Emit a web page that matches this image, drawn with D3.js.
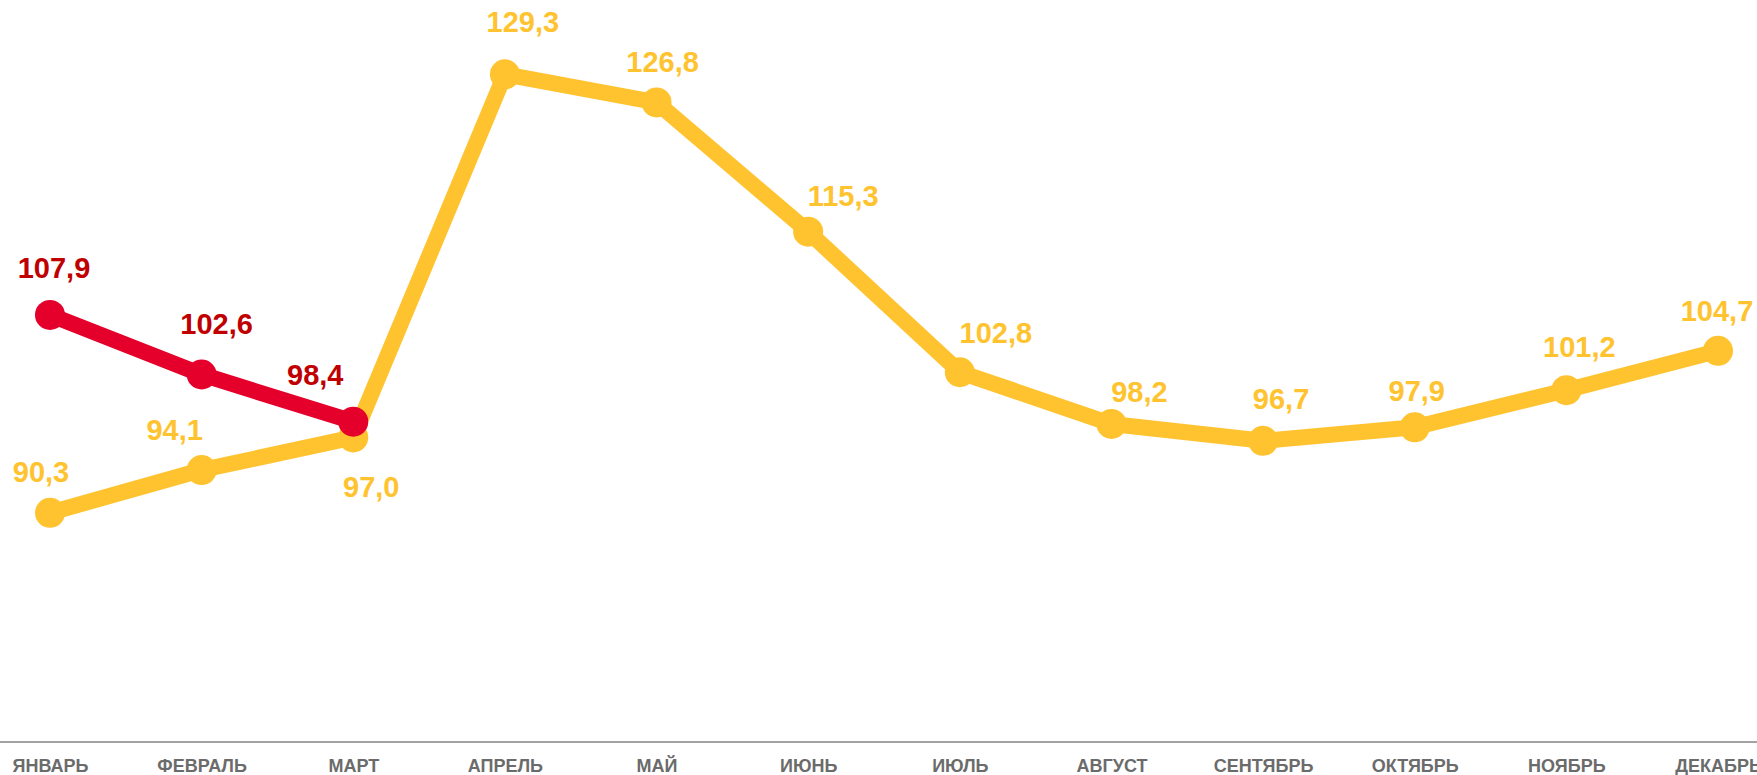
<!DOCTYPE html>
<html>
<head>
<meta charset="utf-8">
<script src="https://cdn.jsdelivr.net/npm/d3@7"></script>
<style>
    html, body { margin: 0; padding: 0; background: #fff; }
    svg { display: block; font-family: Arial, "Liberation Sans", sans-serif; }
    .axis-x text { font-size: 18px; font-weight: bold; fill: #6b6b6b; }
    .val-label { font-size: 29px; font-weight: bold; text-anchor: middle; }
</style>
</head>
<body>
<div id="chart"></div>
<script>
const months = ["ЯНВАРЬ", "ФЕВРАЛЬ", "МАРТ", "АПРЕЛЬ", "МАЙ", "ИЮНЬ", "ИЮЛЬ", "АВГУСТ", "СЕНТЯБРЬ", "ОКТЯБРЬ", "НОЯБРЬ", "ДЕКАБРЬ"];
const prevYear = [90.3, 94.1, 97.0, 129.3, 126.8, 115.3, 102.8, 98.2, 96.7, 97.9, 101.2, 104.7];
const curYear = [107.9, 102.6, 98.4];

// label nudges (dx, dy from the point), like manual placement in the original
const prevOffsets = [[-9, -31], [-27, -30], [18, 60], [18, -42], [6, -30], [35, -26], [36, -29], [28, -22], [18, -32], [2, -26], [13, -33], [-1, -30]];
const curOffsets = [[4, -37], [15, -40], [-38, -37]];

const width = 1757;
const height = 775;
const axisY = 742;
const yellow = "#ffc330";
const red = "#e4002b";
const redText = "#c00000";

const svg = d3.select("#chart").append("svg")
    .attr("width", width)
    .attr("height", height);

const x = d3.scalePoint().domain(months).range([50, 1718]);
const y = d3.scaleLinear().domain([70, 140]).range([741, -46]);

svg.append("line")
    .attr("x1", 0).attr("x2", width)
    .attr("y1", axisY).attr("y2", axisY)
    .attr("stroke", "#a3a3a3")
    .attr("stroke-width", 2);

svg.append("g")
    .attr("class", "axis-x")
    .attr("transform", `translate(0,${axisY})`)
    .call(d3.axisBottom(x).tickSizeInner(0).tickSizeOuter(0).tickPadding(17))
    .call(g => g.select(".domain").remove())
    .call(g => g.selectAll("text").attr("font-family", null).attr("font-size", null));

const line = d3.line()
    .x((d, i) => x(months[i]))
    .y(d => y(d));

function drawSeries(values, color) {
    const g = svg.append("g");
    g.append("path")
        .datum(values)
        .attr("fill", "none")
        .attr("stroke", color)
        .attr("stroke-width", 16)
        .attr("stroke-linejoin", "round")
        .attr("d", line);

    g.selectAll("circle")
        .data(values)
        .join("circle")
        .attr("cx", (d, i) => x(months[i]))
        .attr("cy", d => y(d))
        .attr("r", 15)
        .attr("fill", color);
}

function drawLabels(values, offsets, textColor) {
    svg.append("g").selectAll("text")
        .data(values)
        .join("text")
        .attr("class", "val-label")
        .attr("x", (d, i) => x(months[i]) + offsets[i][0])
        .attr("y", (d, i) => y(d) + offsets[i][1])
        .attr("fill", textColor)
        .text(d => d.toFixed(1).replace(".", ","));
}

drawSeries(prevYear, yellow);
drawSeries(curYear, red);
drawLabels(prevYear, prevOffsets, yellow);
drawLabels(curYear, curOffsets, redText);
</script>
</body>
</html>
